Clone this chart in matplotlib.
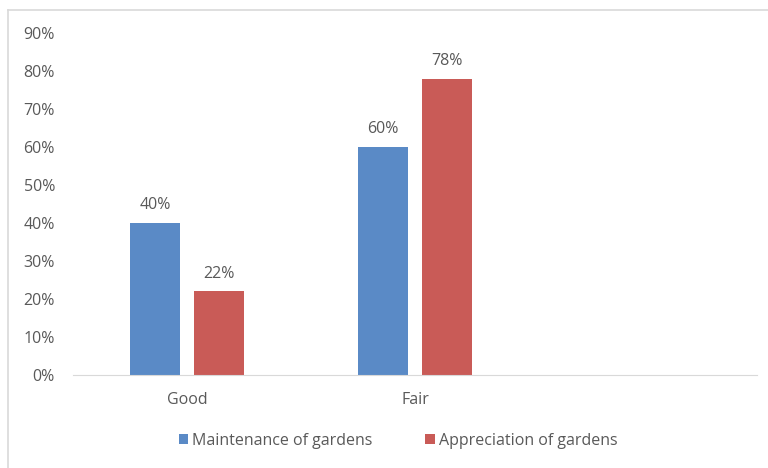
import matplotlib
matplotlib.use("Agg")
from matplotlib import pyplot as plt
from matplotlib.lines import Line2D
import numpy as np

categories = ["Good", "Fair", ""]
maintenance = [0.40, 0.60, np.nan]
appreciation = [0.22, 0.78, np.nan]
series_names = ["Maintenance of gardens", "Appreciation of gardens"]
series_colors = ["#5A8AC6", "#C95B57"]

plt.rcParams["font.family"] = ["Open Sans", "DejaVu Sans"]
text_color = "#595959"
fs = 11.5

fig = plt.figure(figsize=(7.68, 4.68), dpi=100)
ax = fig.add_axes([73 / 768, 1 - 375 / 468, 684 / 768, (375 - 33) / 468])

x = np.arange(len(categories))
width = 0.22
offset = 0.14
b1 = ax.bar(x - offset, maintenance, width, color=series_colors[0], label=series_names[0])
b2 = ax.bar(x + offset, appreciation, width, color=series_colors[1], label=series_names[1])

for bars, vals in ((b1, maintenance), (b2, appreciation)):
    for rect, v in zip(bars, vals):
        if np.isnan(v):
            continue
        ax.annotate(f"{v:.0%}", (rect.get_x() + rect.get_width() / 2, v),
                    xytext=(0, 7), textcoords="offset points", ha="center", va="bottom",
                    fontsize=fs, color=text_color)

ax.set_xlim(-0.5, 2.5)
ax.set_ylim(0, 0.9)
ax.set_yticks(np.arange(0, 0.91, 0.1))
ax.set_yticklabels([f"{int(round(t * 100))}%" for t in np.arange(0, 0.91, 0.1)])
ax.set_xticks(x)
ax.set_xticklabels(categories)
ax.tick_params(axis="both", length=0, labelsize=fs, labelcolor=text_color)
ax.tick_params(axis="y", pad=13)
ax.tick_params(axis="x", pad=12)
for side in ("top", "right", "left"):
    ax.spines[side].set_visible(False)
ax.spines["bottom"].set_color("#d9d9d9")

ax.legend(loc="center", bbox_to_anchor=(398 / 768, 1 - 441 / 468), bbox_transform=fig.transFigure,
          ncol=2, frameon=False, fontsize=fs, labelcolor=text_color, handlelength=0.6,
          handleheight=0.6, handletextpad=0.25, columnspacing=3.3)

# chart area border (left and top edges visible)
fig.add_artist(Line2D([8 / 768, 8 / 768], [0, 1 - 10 / 468], transform=fig.transFigure, color="#d9d9d9", lw=1.2))
fig.add_artist(Line2D([8 / 768, 1], [1 - 10 / 468, 1 - 10 / 468], transform=fig.transFigure, color="#d9d9d9", lw=1.2))

fig.savefig("out.png", dpi=100)
